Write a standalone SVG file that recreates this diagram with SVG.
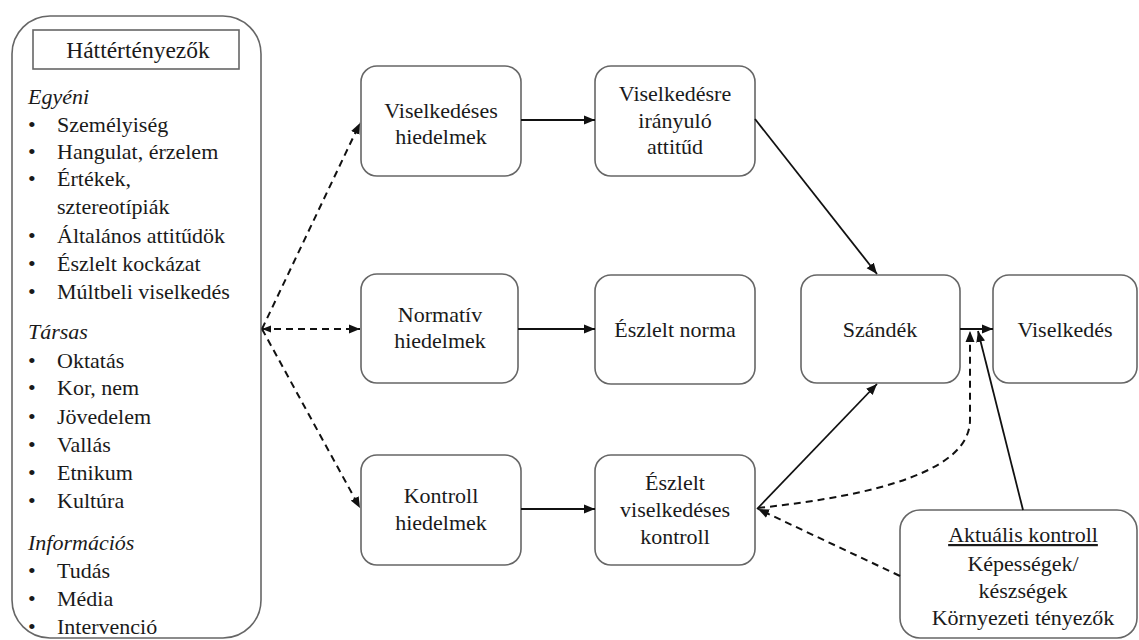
<svg xmlns="http://www.w3.org/2000/svg" width="1139" height="640" viewBox="0 0 1139 640">
  <style>
    .box { fill: #fff; stroke: #666; stroke-width: 1.6; }
    .t { font-family: 'Liberation Serif', 'Tinos', 'DejaVu Serif', serif; font-size: 22px; fill: #1a1a1a; }
    .c { text-anchor: middle; }
    .i { font-style: italic; }
    .ln { fill: none; stroke: #111; stroke-width: 1.8; }
    .dash { stroke-dasharray: 7 5; stroke-width: 2; }
  </style>
  <defs>
    <marker id="arr" markerUnits="userSpaceOnUse" markerWidth="12" markerHeight="10" viewBox="0 0 12 10" refX="11" refY="5" orient="auto-start-reverse">
      <path d="M0,0.5 L11,5 L0,9.5 Z" fill="#111"/>
    </marker>
    <marker id="arrs" markerUnits="userSpaceOnUse" markerWidth="10" markerHeight="8" viewBox="0 0 10 8" refX="9" refY="4" orient="auto-start-reverse">
      <path d="M0,0.5 L9,4 L0,7.5 Z" fill="#111"/>
    </marker>
  </defs>
  <rect width="1139" height="640" fill="#fff"/>

  <!-- background factors panel -->
  <g id="hatter">
    <rect class="box" x="12" y="16" width="249" height="622" rx="38" ry="38"/>
    <rect x="33" y="30" width="206" height="39" fill="#fff" stroke="#666" stroke-width="1.6"/>
    <text class="t c" x="138" y="58" style="font-size:23.5px">Háttértényezők</text>
    <text class="t i" x="28" y="104">Egyéni</text>
    <g class="t">
      <text x="28" y="132">•</text><text x="57" y="132">Személyiség</text>
      <text x="28" y="159">•</text><text x="57" y="159">Hangulat, érzelem</text>
      <text x="28" y="186">•</text><text x="57" y="186">Értékek,</text>
      <text x="57" y="214">sztereotípiák</text>
      <text x="28" y="243">•</text><text x="57" y="243">Általános attitűdök</text>
      <text x="28" y="271">•</text><text x="57" y="271">Észlelt kockázat</text>
      <text x="28" y="299">•</text><text x="57" y="299">Múltbeli viselkedés</text>
    </g>
    <text class="t i" x="28" y="339">Társas</text>
    <g class="t">
      <text x="28" y="368">•</text><text x="57" y="368">Oktatás</text>
      <text x="28" y="395">•</text><text x="57" y="395">Kor, nem</text>
      <text x="28" y="424">•</text><text x="57" y="424">Jövedelem</text>
      <text x="28" y="452">•</text><text x="57" y="452">Vallás</text>
      <text x="28" y="480">•</text><text x="57" y="480">Etnikum</text>
      <text x="28" y="508">•</text><text x="57" y="508">Kultúra</text>
    </g>
    <text class="t i" x="28" y="550">Információs</text>
    <g class="t">
      <text x="28" y="578">•</text><text x="57" y="578">Tudás</text>
      <text x="28" y="606">•</text><text x="57" y="606">Média</text>
      <text x="28" y="634">•</text><text x="57" y="634">Intervenció</text>
    </g>
  </g>

  <g id="viselkedeses-hiedelmek">
    <rect class="box" x="361" y="66" width="160" height="110" rx="16"/>
    <text class="t c" x="441" y="118">Viselkedéses</text>
    <text class="t c" x="441" y="144">hiedelmek</text>
  </g>
  <g id="attitud">
    <rect class="box" x="595" y="66" width="160" height="110" rx="16"/>
    <text class="t c" x="675" y="101">Viselkedésre</text>
    <text class="t c" x="675" y="128">irányuló</text>
    <text class="t c" x="675" y="154">attitűd</text>
  </g>
  <g id="normativ-hiedelmek">
    <rect class="box" x="361" y="274" width="157" height="109" rx="16"/>
    <text class="t c" x="440" y="322">Normatív</text>
    <text class="t c" x="440" y="348">hiedelmek</text>
  </g>
  <g id="eszlelt-norma">
    <rect class="box" x="595" y="275" width="160" height="109" rx="16"/>
    <text class="t c" x="675" y="337">Észlelt norma</text>
  </g>
  <g id="kontroll-hiedelmek">
    <rect class="box" x="361" y="455" width="160" height="110" rx="16"/>
    <text class="t c" x="441" y="503">Kontroll</text>
    <text class="t c" x="441" y="530">hiedelmek</text>
  </g>
  <g id="eszlelt-kontroll">
    <rect class="box" x="595" y="455" width="160" height="110" rx="16"/>
    <text class="t c" x="675" y="490">Észlelt</text>
    <text class="t c" x="675" y="517">viselkedéses</text>
    <text class="t c" x="675" y="544">kontroll</text>
  </g>
  <g id="szandek">
    <rect class="box" x="801" y="275" width="159" height="108" rx="16"/>
    <text class="t c" x="880" y="337">Szándék</text>
  </g>
  <g id="viselkedes">
    <rect class="box" x="993" y="275" width="144" height="108" rx="16"/>
    <text class="t c" x="1065" y="337">Viselkedés</text>
  </g>
  <g id="aktualis-kontroll">
    <rect class="box" x="900" y="510" width="237" height="128" rx="20"/>
    <text class="t c" x="1023" y="542" text-decoration="underline">Aktuális kontroll</text>
    <text class="t c" x="1023" y="571">Képességek/</text>
    <text class="t c" x="1023" y="598">készségek</text>
    <text class="t c" x="1023" y="625">Környezeti tényezők</text>
  </g>

  <!-- connectors -->
  <g id="connectors">
    <path class="ln dash" d="M262,329 L360,123" marker-end="url(#arr)"/>
    <path class="ln dash" d="M262,329 L360,329" marker-start="url(#arrs)" marker-end="url(#arr)"/>
    <path class="ln dash" d="M262,329 L360,508" marker-end="url(#arr)"/>
    <path class="ln" d="M521,120 L595,120" marker-end="url(#arr)"/>
    <path class="ln" d="M518,329 L595,329" marker-end="url(#arr)"/>
    <path class="ln" d="M521,509 L595,509" marker-end="url(#arr)"/>
    <path class="ln" d="M755,119 L877,274" marker-end="url(#arr)"/>
    <path class="ln" d="M757,509 L877,384" marker-end="url(#arr)"/>
    <path class="ln" d="M960,329 L993,329" marker-end="url(#arr)"/>
    <path class="ln dash" d="M758,508 C880,495 970,470 970,420 L970,331" marker-end="url(#arr)"/>
    <path class="ln dash" d="M900,576 L758,509" marker-end="url(#arr)"/>
    <path class="ln" d="M1023,510 L978,331" marker-end="url(#arr)"/>
  </g>
</svg>
